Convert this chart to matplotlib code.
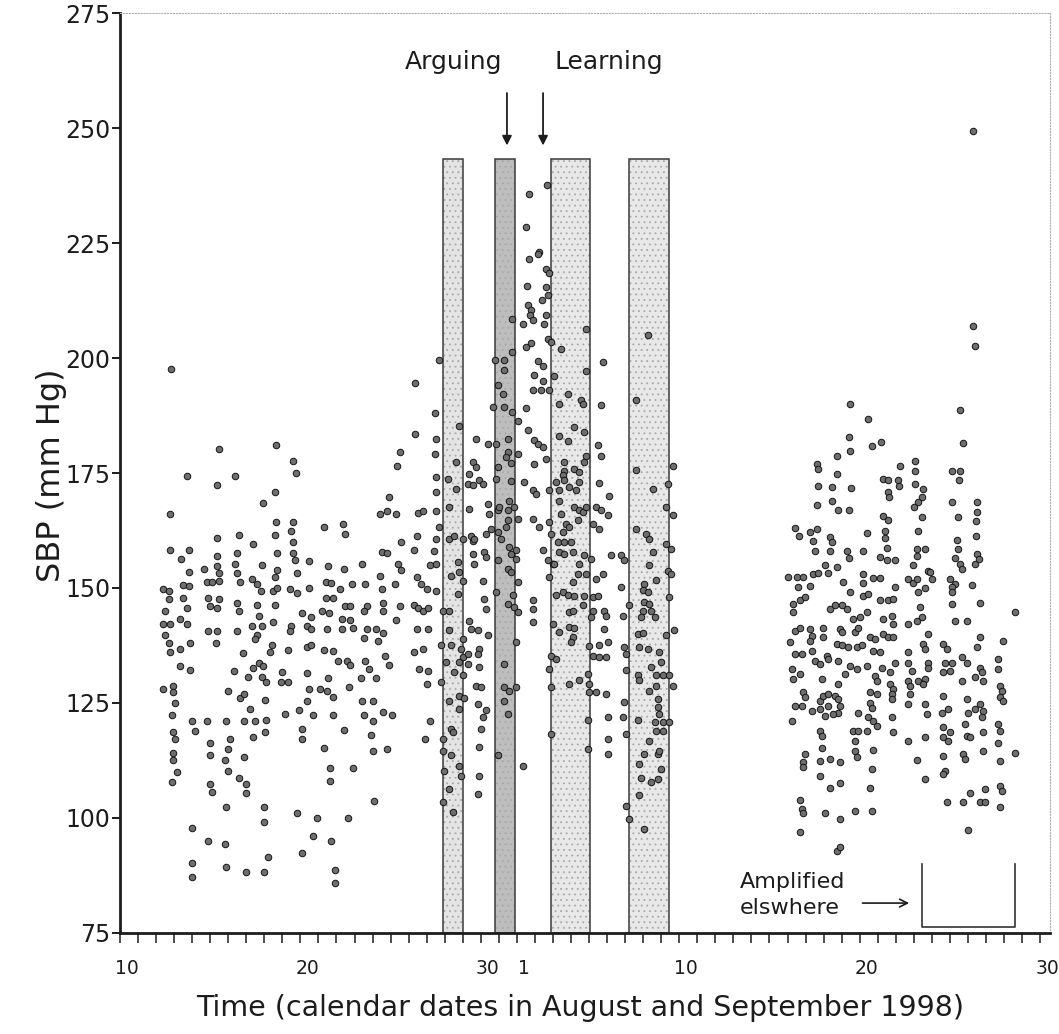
import numpy as np
import matplotlib.pyplot as plt
from matplotlib.transforms import ScaledTranslation

# x = day counted from 1 August 1998 (Sep 1 = 32), y = SBP in mm Hg
# readings 12-27 August
aug_pts = [
    (12.81, 197.6), (26.34, 194.5), (27.47, 188.1), (26.34, 183.5), (27.5, 182.4),
    (25.5, 179.5), (27.45, 179.2), (25.34, 176.6), (15.47, 180.3), (18.65, 181.0),
    (19.6, 177.6), (19.76, 174.9), (13.7, 174.4), (16.36, 174.3), (15.36, 172.4),
    (18.6, 170.8), (17.95, 168.4), (24.9, 169.8), (27.5, 174.2), (27.5, 170.8),
    (27.5, 166.7), (24.8, 166.7), (24.4, 166.1), (25.3, 166.0), (26.5, 166.3),
    (26.8, 166.8), (12.77, 166.0), (18.65, 164.4), (19.6, 164.4), (21.3, 163.2),
    (22.35, 164.0), (22.5, 161.8), (19.5, 162.3), (15.4, 160.9), (16.6, 161.6),
    (18.6, 161.5), (17.4, 159.5), (19.6, 160.0), (25.6, 160.1), (26.45, 161.2),
    (12.8, 158.3), (13.8, 158.3), (13.36, 156.3), (15.4, 157.0), (16.5, 157.7),
    (18.7, 157.7), (19.6, 157.6), (19.7, 156.1), (20.5, 155.8), (24.5, 157.9),
    (24.8, 157.6), (26.3, 158.3), (27.5, 160.6), (27.4, 158.0), (13.8, 153.4),
    (14.66, 154.2), (15.36, 154.7), (15.5, 153.2), (16.4, 155.2), (16.5, 153.2),
    (17.85, 155.0), (18.7, 153.9), (18.6, 152.3), (19.8, 153.2), (21.55, 154.7),
    (22.4, 154.2), (23.4, 155.3), (25.4, 155.3), (25.6, 153.9), (27.2, 155.0),
    (27.5, 155.3), (12.4, 149.8), (12.7, 149.4), (13.5, 150.6), (13.8, 150.5),
    (14.8, 151.4), (15.1, 151.4), (15.5, 151.6), (16.65, 151.2), (17.3, 152.0),
    (17.6, 150.9), (17.8, 149.3), (18.5, 149.3), (18.7, 150.0), (19.4, 149.8),
    (19.8, 149.0), (20.5, 150.0), (21.4, 151.2), (21.7, 151.0), (22.2, 149.8),
    (22.85, 150.9), (23.6, 150.9), (24.4, 152.7), (24.5, 149.8), (25.25, 150.9),
    (26.45, 152.3), (26.7, 150.9), (27.0, 149.8), (27.5, 149.3), (12.7, 147.5),
    (13.5, 147.9), (13.7, 145.6), (14.9, 147.9), (15.5, 147.5), (15.0, 146.0),
    (15.4, 145.6), (16.5, 146.7), (16.6, 144.9), (17.6, 146.3), (17.7, 144.0),
    (18.6, 146.3), (21.4, 147.9), (21.8, 147.9), (22.5, 146.0), (22.75, 146.0),
    (23.7, 146.0), (23.5, 144.9), (24.6, 146.7), (24.6, 144.9), (25.5, 146.0),
    (26.3, 146.3), (26.5, 145.6), (26.8, 144.9), (27.1, 145.6), (12.5, 144.9),
    (12.4, 142.2), (12.8, 142.2), (13.3, 143.3), (13.7, 142.2), (14.9, 140.7),
    (15.4, 140.7), (16.5, 140.7), (17.3, 141.8), (17.85, 141.8), (17.6, 139.7),
    (18.5, 142.6), (19.5, 141.8), (19.4, 140.7), (20.1, 144.5), (20.6, 143.7),
    (20.35, 141.8), (20.6, 141.0), (21.2, 144.9), (21.6, 144.5), (22.3, 143.3),
    (22.75, 143.0), (21.5, 141.0), (22.3, 141.0), (22.9, 141.2), (23.7, 141.0),
    (24.2, 141.0), (24.6, 140.3), (25.3, 143.0), (26.45, 141.0), (27.1, 141.0),
    (12.5, 139.7), (12.7, 138.0), (12.8, 136.1), (13.3, 136.8), (13.9, 138.0),
    (15.3, 138.0), (16.8, 135.8), (17.5, 138.9), (18.3, 136.1), (18.4, 137.6),
    (19.3, 136.5), (20.35, 137.2), (20.6, 137.6), (21.3, 136.5), (21.8, 136.3),
    (23.5, 139.1), (24.3, 138.4), (24.7, 135.3), (26.3, 136.1), (26.8, 136.8),
    (13.3, 133.0), (13.9, 132.1), (16.3, 131.9), (17.1, 130.7), (17.4, 132.7),
    (17.7, 133.8), (17.95, 133.0), (17.85, 130.7), (18.1, 129.6), (19.0, 131.7),
    (18.9, 129.6), (19.3, 129.6), (20.35, 131.5), (20.45, 128.0), (21.55, 130.4),
    (22.1, 134.2), (22.6, 134.2), (22.75, 133.3), (23.6, 134.2), (23.8, 132.3),
    (23.35, 130.4), (24.2, 130.4), (24.9, 133.3), (26.6, 132.3), (27.1, 131.9),
    (27.0, 129.2), (12.4, 128.0), (12.96, 128.8), (12.96, 127.3), (13.05, 124.9),
    (16.0, 127.6), (16.65, 126.1), (16.9, 126.9), (18.04, 125.7), (21.1, 128.0),
    (21.5, 127.6), (21.8, 126.4), (22.7, 128.4), (20.35, 125.4), (20.7, 122.3),
    (19.9, 123.5), (19.15, 122.6), (23.4, 125.4), (24.0, 125.4), (17.2, 123.8),
    (16.9, 121.1), (17.5, 121.1), (18.1, 121.4), (18.04, 118.7), (12.87, 122.3),
    (13.97, 121.1), (14.85, 121.1), (15.9, 121.1), (12.96, 118.7), (13.05, 117.2),
    (14.16, 119.0), (17.4, 117.6), (16.1, 117.2), (16.0, 114.9), (20.1, 119.4),
    (20.1, 117.2), (21.8, 122.3), (22.4, 119.2), (23.5, 122.3), (24.0, 121.1),
    (24.6, 123.0), (25.1, 122.3), (23.9, 118.0), (24.0, 114.5), (24.8, 114.9),
    (27.2, 121.1), (26.9, 117.2), (15.0, 116.2), (15.0, 113.8), (16.9, 113.3),
    (16.6, 108.7), (21.3, 115.2), (12.96, 114.1), (12.96, 112.6), (13.14, 109.9),
    (12.87, 107.9), (15.8, 112.6), (16.0, 110.2), (21.65, 110.8), (22.9, 110.8),
    (21.65, 108.1), (15.0, 107.4), (15.1, 105.7), (17.0, 107.4), (17.0, 105.4),
    (24.1, 103.8), (15.9, 102.3), (18.0, 102.3), (18.0, 99.2), (19.8, 101.1),
    (20.9, 99.9), (22.65, 99.9), (14.0, 97.8), (14.9, 95.1), (15.8, 94.3),
    (20.7, 96.1), (21.7, 94.9), (20.1, 92.4), (18.2, 91.6), (14.0, 90.3),
    (14.0, 87.2), (15.9, 89.4), (17.0, 88.3), (18.0, 88.3), (21.9, 88.7),
    (21.9, 85.8),
]

# readings 27 August - 10 September (around the shaded periods)
mid_pts = [
    (33.65, 237.6), (32.66, 235.6), (32.51, 228.4), (33.25, 223.1), (33.16, 222.7),
    (32.66, 221.5), (33.62, 219.4), (33.8, 218.4), (32.55, 215.6), (33.62, 215.5),
    (33.7, 213.6), (33.4, 212.6), (32.6, 211.5), (32.79, 210.4), (32.7, 209.3),
    (32.88, 208.2), (33.62, 209.3), (33.53, 207.3), (32.32, 207.5), (31.73, 208.5),
    (35.84, 206.2), (33.71, 204.2), (33.9, 203.5), (32.79, 203.3), (32.51, 202.4),
    (34.45, 202.0), (31.73, 201.3), (27.7, 199.6), (36.76, 199.1), (30.81, 199.5),
    (31.31, 199.5), (33.16, 199.4), (33.43, 198.2), (35.84, 197.2), (31.31, 197.3),
    (39.25, 205.0), (32.97, 196.2), (33.43, 195.1), (34.08, 196.0), (30.94, 194.1),
    (32.88, 193.1), (33.34, 193.1), (33.8, 193.1), (31.22, 192.2), (34.82, 192.1),
    (35.56, 190.8), (35.65, 190.1), (38.6, 190.8), (34.36, 189.9), (36.67, 189.7),
    (30.66, 189.3), (31.31, 189.3), (32.51, 189.2), (31.73, 188.3), (32.05, 186.4),
    (28.78, 185.3), (35.19, 185.0), (35.74, 183.9), (32.6, 184.3), (31.49, 182.5),
    (34.36, 183.0), (34.82, 181.9), (29.74, 182.5), (30.38, 181.4), (30.85, 181.4),
    (32.97, 182.1), (33.16, 181.4), (33.43, 180.6), (36.48, 181.0), (32.05, 179.2),
    (31.49, 179.5), (31.4, 178.5), (33.62, 178.1), (32.97, 177.0), (28.63, 177.4),
    (29.55, 177.4), (29.74, 176.3), (31.68, 177.2), (30.94, 176.3), (34.63, 177.4),
    (34.63, 175.5), (35.19, 175.9), (35.47, 175.2), (35.84, 178.8), (35.74, 177.4),
    (36.67, 178.8), (38.6, 175.6), (40.64, 176.6), (28.17, 173.7), (29.37, 174.8),
    (29.28, 172.7), (29.92, 173.4), (29.55, 172.3), (30.1, 172.7), (30.85, 173.7),
    (31.68, 173.2), (32.42, 173.0), (32.88, 171.2), (33.06, 170.5), (33.8, 171.2),
    (34.17, 173.0), (34.54, 174.5), (34.63, 173.4), (34.91, 171.9), (35.28, 171.2),
    (35.47, 173.0), (36.57, 172.8), (37.13, 169.9), (40.36, 172.7), (39.53, 171.6),
    (28.26, 167.6), (28.63, 171.6), (29.37, 167.2), (30.38, 168.3), (30.48, 166.1),
    (30.94, 166.9), (31.03, 167.6), (31.59, 169.0), (31.49, 166.9), (31.86, 167.7),
    (31.49, 164.7), (32.05, 165.1), (32.88, 165.1), (34.36, 171.2), (34.36, 169.0),
    (34.45, 166.1), (33.8, 164.3), (35.19, 167.6), (35.47, 166.9), (35.65, 166.5),
    (35.84, 167.6), (36.39, 167.6), (36.67, 166.9), (37.04, 165.8), (36.2, 164.0),
    (40.27, 167.6), (40.64, 165.8), (34.73, 164.0), (34.91, 163.2), (38.6, 162.9),
    (30.57, 162.9), (31.4, 163.2),
    (27.7, 163.2), (28.26, 160.7), (28.54, 161.4), (29.0, 160.7), (29.46, 161.4),
    (29.55, 160.3), (29.64, 160.7), (30.29, 161.8), (28.72, 155.6), (28.81, 153.5),
    (28.35, 152.7), (29.55, 157.4), (30.2, 157.8), (30.29, 156.7), (29.64, 155.3),
    (29.0, 151.6), (30.11, 151.6), (28.72, 148.7), (27.89, 145.1), (28.26, 145.1),
    (30.2, 147.7), (30.29, 145.5), (29.37, 142.9), (29.46, 141.1), (29.83, 140.8),
    (30.38, 139.7), (28.26, 140.8), (29.0, 138.9), (27.8, 137.5), (28.35, 137.7),
    (28.9, 136.8), (29.0, 135.0), (28.81, 133.9), (29.28, 135.7), (29.92, 136.8),
    (29.83, 135.7), (28.07, 133.9), (28.54, 131.7), (29.28, 133.5), (29.92, 132.8),
    (29.0, 131.0), (27.8, 129.5), (29.74, 128.8), (30.01, 128.4), (28.81, 126.6),
    (29.05, 126.0), (28.26, 125.5), (29.83, 124.8), (30.29, 123.4), (28.81, 123.7),
    (30.11, 121.9), (28.35, 119.4), (28.44, 118.6), (30.01, 119.4), (27.89, 117.2),
    (29.92, 115.4), (27.89, 114.6), (28.35, 113.6), (28.81, 111.4), (27.98, 110.3),
    (28.9, 109.2), (29.92, 109.2), (28.26, 106.3), (29.83, 105.2), (27.89, 103.4),
    (28.44, 101.2),
    (30.94, 162.2), (31.12, 160.7), (31.59, 158.9), (31.96, 158.2), (31.68, 157.4),
    (30.94, 156.0), (31.96, 156.4), (31.49, 154.2), (31.68, 153.5), (32.05, 151.3),
    (30.85, 149.1), (31.77, 148.4), (31.49, 146.6), (31.86, 145.8), (32.05, 144.8),
    (32.88, 147.3), (32.88, 145.5), (32.88, 142.6), (31.96, 138.2), (31.31, 133.5),
    (31.31, 128.4), (31.59, 127.7), (31.96, 128.4), (31.31, 125.5), (31.49, 122.6),
    (30.94, 113.6), (32.32, 111.2),
    (33.25, 163.2), (33.43, 158.2), (33.71, 156.0), (33.99, 155.3), (33.8, 152.4),
    (33.9, 118.3), (33.9, 128.4), (33.8, 132.4), (33.99, 142.2),
    (33.9, 161.8), (34.54, 162.2), (34.26, 160.0), (34.63, 160.0), (35.0, 160.0),
    (35.37, 164.7), (36.57, 162.9), (34.36, 157.8), (34.63, 157.4), (35.09, 157.8),
    (35.74, 157.1), (36.11, 156.4), (34.08, 155.3), (35.47, 155.3), (35.37, 153.1),
    (35.84, 153.1), (35.09, 151.3), (36.39, 152.0), (36.76, 153.1), (37.22, 157.1),
    (37.77, 157.1), (37.96, 156.0), (37.77, 150.2), (34.17, 148.4), (34.54, 149.1),
    (34.82, 148.4), (35.19, 148.2), (35.74, 148.2), (36.2, 148.0), (36.48, 148.2),
    (34.91, 144.7), (35.09, 145.1), (35.65, 146.2), (36.2, 145.1), (36.11, 143.7),
    (36.85, 145.1), (36.94, 144.0), (37.87, 144.0), (38.24, 146.2), (34.36, 140.4),
    (34.91, 141.5), (35.19, 141.3), (35.09, 139.3), (35.0, 138.2), (36.85, 141.1),
    (35.99, 137.3), (36.57, 137.5), (37.04, 138.2), (36.2, 135.3), (36.57, 135.1),
    (36.94, 135.1), (33.9, 135.3), (34.17, 134.6), (37.96, 137.1), (38.05, 135.7),
    (35.93, 131.3), (34.91, 129.2), (35.47, 130.0), (35.99, 129.2), (35.99, 127.3),
    (36.39, 127.3), (36.94, 127.0), (38.05, 132.1), (37.96, 125.2), (37.04, 121.9),
    (37.87, 121.9), (38.05, 118.3), (35.93, 121.2), (37.04, 117.2), (37.04, 113.9),
    (35.93, 115.0), (38.05, 102.7),
    (39.16, 161.8), (39.35, 160.7), (40.27, 159.6), (40.55, 158.5), (39.53, 157.8),
    (39.35, 154.9), (40.36, 153.8), (40.55, 153.1), (39.72, 151.8), (39.07, 150.9),
    (38.98, 149.5), (39.25, 149.1), (40.45, 148.0), (39.07, 146.9), (39.3, 146.5),
    (38.98, 145.1), (39.44, 145.1), (39.63, 143.7), (38.9, 143.8), (38.7, 140.0),
    (39.0, 140.3), (40.27, 139.7), (40.73, 140.8), (38.79, 137.1), (39.25, 136.8),
    (39.9, 136.0), (40.0, 133.9), (39.44, 132.8), (38.7, 131.0), (38.79, 129.9),
    (39.72, 131.0), (40.08, 131.0), (40.45, 131.0), (40.64, 128.8), (39.72, 128.8),
    (39.35, 127.7), (39.81, 125.9), (39.81, 124.1), (39.9, 122.6), (38.7, 121.2),
    (39.63, 120.8), (40.08, 120.8), (40.45, 120.8), (39.72, 119.0), (40.08, 118.9),
    (39.35, 116.8), (39.07, 113.9), (39.81, 113.9), (39.9, 114.6), (38.79, 111.7),
    (40.0, 110.7), (38.88, 108.8), (39.44, 107.8), (39.81, 108.5), (38.79, 104.9),
    (38.24, 99.8), (39.07, 97.6),
]

# readings 16-30 September
sep_pts = [
    (57.3, 249.3), (57.26, 206.9), (57.39, 202.7), (50.46, 189.9), (51.48, 186.8),
    (56.56, 188.7), (50.43, 182.8), (50.46, 179.7), (49.73, 178.8), (51.67, 180.8),
    (52.16, 181.7), (56.71, 181.5), (48.62, 177.0), (48.71, 175.9), (49.73, 174.8),
    (53.24, 176.6), (54.07, 177.7), (54.07, 175.5), (56.1, 175.5), (56.56, 175.5),
    (56.52, 173.4), (52.31, 173.7), (52.59, 173.5), (53.14, 173.4), (53.2, 172.2),
    (48.71, 172.1), (49.45, 171.9), (50.52, 171.8), (54.07, 172.6), (54.49, 171.5),
    (54.44, 169.7), (54.25, 168.6), (54.01, 167.7), (52.59, 170.8), (52.65, 169.7),
    (49.45, 169.0), (49.82, 167.0), (50.43, 167.0), (48.62, 168.1), (56.1, 168.6),
    (57.52, 168.6), (57.49, 166.5), (57.45, 164.5), (56.47, 165.5), (54.44, 165.5),
    (52.28, 165.7), (52.59, 164.8), (47.42, 163.1), (47.66, 161.2), (48.25, 162.1),
    (48.62, 162.8), (48.43, 160.2), (49.36, 161.0), (49.45, 159.9), (51.39, 161.9),
    (52.4, 162.5), (52.4, 160.9), (52.5, 158.7), (54.25, 162.5), (56.38, 160.5),
    (57.45, 161.4), (56.47, 158.5), (48.52, 158.0), (49.36, 158.0), (50.32, 158.0),
    (50.4, 156.6), (51.2, 158.0), (54.16, 158.5), (54.62, 158.5), (54.2, 157.0),
    (57.49, 157.4), (57.39, 155.2), (57.6, 156.2), (52.13, 156.7), (52.5, 156.0),
    (52.96, 156.0), (56.29, 156.5), (56.56, 155.2), (56.65, 154.1), (49.08, 154.9),
    (49.73, 154.5), (53.98, 154.9), (54.81, 153.8), (47.05, 152.3), (47.51, 152.3),
    (47.88, 152.3), (48.43, 153.0), (48.71, 153.2), (49.26, 153.2), (47.6, 150.3),
    (48.25, 150.5), (50.1, 151.2), (51.2, 153.0), (51.2, 151.0), (51.76, 152.2),
    (52.13, 152.2), (52.96, 150.2), (53.7, 152.0), (53.98, 151.0), (54.16, 152.0),
    (54.9, 153.4), (55.0, 152.0), (54.62, 150.0), (56.0, 152.0), (56.29, 150.9),
    (56.1, 150.2), (57.21, 150.7),
    (47.32, 146.5), (47.69, 147.3), (47.97, 148.1), (47.32, 144.7), (49.36, 145.4),
    (49.63, 146.2), (50.0, 146.2), (50.28, 145.4), (50.46, 149.1), (51.2, 148.3),
    (51.48, 148.7), (52.13, 147.3), (52.59, 147.3), (52.87, 147.6), (54.25, 149.1),
    (54.34, 145.9), (56.1, 149.1), (56.1, 146.5), (57.67, 146.7), (59.61, 144.7),
    (50.65, 143.3), (51.02, 143.6), (51.39, 144.7), (52.31, 143.3), (52.77, 144.0),
    (52.87, 142.2), (53.7, 142.2), (54.16, 142.9), (54.44, 143.6), (56.29, 142.9),
    (56.93, 142.9), (47.42, 140.7), (47.69, 141.4), (48.25, 141.1), (48.34, 139.6),
    (48.25, 138.5), (48.99, 141.4), (48.99, 139.3), (49.91, 141.1), (50.0, 140.4),
    (50.74, 140.4), (50.93, 141.4), (51.57, 139.3), (51.85, 138.9), (52.31, 140.0),
    (52.59, 139.3), (52.87, 139.3), (54.81, 140.0), (57.67, 139.3), (58.96, 138.5),
    (47.14, 138.2), (49.73, 137.8), (50.0, 137.5), (50.37, 137.1), (50.83, 137.1),
    (51.11, 137.5), (51.76, 136.4), (52.13, 136.0), (54.53, 137.8), (54.62, 136.7),
    (55.64, 137.8), (55.82, 136.7), (57.49, 137.1), (47.42, 135.6), (47.78, 135.6),
    (48.34, 136.4), (49.17, 135.3), (49.26, 134.6), (49.82, 134.2), (48.52, 134.2),
    (48.8, 133.5), (50.46, 133.1), (50.83, 132.4), (51.39, 133.1), (52.22, 132.7),
    (52.68, 131.7), (52.96, 133.8), (53.7, 136.0), (53.7, 133.8), (53.88, 132.0),
    (54.81, 133.8), (54.81, 132.6), (55.73, 133.8), (56.1, 133.8), (55.64, 131.7),
    (56.01, 132.0), (56.65, 134.9), (56.93, 133.8), (58.69, 134.6), (58.69, 132.4),
    (57.67, 132.7), (57.76, 131.7), (47.23, 132.4), (47.69, 131.3), (47.32, 130.2),
    (48.9, 130.2), (49.82, 129.1), (50.19, 131.3), (51.85, 130.9), (51.94, 129.8),
    (52.68, 129.1), (52.87, 128.0), (53.7, 129.8), (53.79, 128.8), (54.25, 129.8),
    (54.62, 130.2), (54.53, 129.1), (56.65, 129.8), (57.39, 130.6), (57.85, 129.8),
    (58.78, 128.8), (58.87, 127.7), (47.88, 127.3), (47.97, 126.2), (51.57, 127.3),
    (51.94, 126.9), (52.77, 126.9), (52.77, 125.9), (53.79, 126.9), (55.64, 126.6),
    (56.93, 125.9), (58.78, 126.2), (58.96, 125.5), (48.8, 125.5), (48.99, 126.6),
    (49.26, 126.9), (49.63, 126.6), (49.82, 125.9), (49.91, 124.4), (49.82, 122.9),
    (49.54, 122.6), (49.08, 122.2), (48.8, 123.7), (49.26, 124.4), (47.42, 124.4),
    (47.78, 124.4), (48.34, 123.3), (51.57, 125.1), (51.67, 124.0), (53.7, 124.8),
    (54.62, 124.8), (54.71, 122.6), (55.55, 122.9), (55.92, 123.7), (57.02, 122.9),
    (57.39, 123.7), (57.67, 124.8), (57.85, 123.3), (57.76, 121.9), (50.93, 122.9),
    (51.48, 121.9), (51.76, 121.1), (51.94, 120.1), (52.77, 121.9), (47.23, 121.1),
    (48.8, 118.9), (48.9, 117.9), (50.65, 118.9), (50.93, 118.9), (51.39, 118.9),
    (52.87, 118.6), (53.7, 116.8), (54.62, 117.5), (55.64, 119.7), (56.01, 118.6),
    (55.64, 117.5), (55.92, 116.8), (56.84, 120.4), (56.93, 117.9), (57.11, 117.5),
    (57.85, 118.6), (58.69, 120.4), (58.78, 119.0), (58.69, 116.4), (59.61, 114.2),
    (48.9, 115.3), (48.8, 112.4), (50.74, 116.8), (50.74, 114.6), (50.83, 113.2),
    (51.76, 114.8), (47.97, 114.0), (47.88, 112.1), (47.88, 111.0), (49.36, 112.8),
    (49.91, 112.1), (54.16, 112.6), (55.64, 113.5), (56.75, 113.9), (56.84, 112.8),
    (57.85, 114.6), (58.78, 112.4), (55.73, 110.3), (55.64, 109.5), (51.67, 110.6),
    (48.8, 109.2), (49.36, 106.6), (49.91, 107.7), (51.57, 106.6), (54.62, 108.4),
    (58.78, 107.0), (58.87, 105.9), (57.11, 105.5), (57.95, 106.3), (55.82, 103.4),
    (56.75, 103.4), (57.67, 103.4), (57.95, 103.4), (58.78, 102.3), (47.69, 103.9),
    (47.78, 101.9), (47.88, 101.0), (49.08, 101.0), (49.91, 99.7), (50.74, 101.5),
    (51.67, 101.5), (47.69, 97.0), (57.02, 97.3), (49.73, 92.8), (49.91, 93.6),
]

# shaded periods (days), the second one is the darker "arguing" day
bar_start = [27.92, 30.79, 33.89, 38.23]
bar_end = [28.99, 31.90, 36.07, 40.42]
bar_shade = ["#e4e4e4", "#bdbdbd", "#e8e8e8", "#e8e8e8"]
bar_top = 243.2

tick_days = [10, 20, 30, 32, 41, 51, 61]
tick_text = ["10", "20", "30", "1", "10", "20", "30"]
y_ticks = [75, 100, 125, 150, 175, 200, 225, 250, 275]

plt.rcParams["font.family"] = ["DejaVu Sans"]
plt.rcParams["hatch.linewidth"] = 0.6
ink = "#1c1c1c"

fig = plt.figure(figsize=(10.59, 10.34), dpi=100)
ax = fig.add_axes([0.1133, 0.0977, 0.8782, 0.8897])

# shaded periods: stippled fill, then a dark outline on top
widths = np.subtract(bar_end, bar_start)
ax.bar(bar_start, bar_top - 75, width=widths, bottom=75, align="edge",
       color=bar_shade, edgecolor="#a8a8a8", hatch="...", linewidth=0, zorder=1)
ax.bar(bar_start, bar_top - 75, width=widths, bottom=75, align="edge",
       fill=False, edgecolor="#3a3a3a", linewidth=1.1, zorder=2)

pts = np.array(aug_pts + mid_pts + sep_pts)
ax.scatter(pts[:, 0], pts[:, 1], s=22, facecolor="#6e6e6e", edgecolor="#141414",
           linewidths=0.7, zorder=3)

ax.set_xlim(10, 61.55)
ax.set_ylim(75, 275)

for side in ("left", "bottom"):
    ax.spines[side].set_linewidth(2.0)
    ax.spines[side].set_color(ink)
for side in ("top", "right"):
    ax.spines[side].set_linewidth(0.8)
    ax.spines[side].set_color("#b0b0b0")
    ax.spines[side].set_linestyle(":")

ax.set_yticks(y_ticks)
ax.set_yticklabels([str(v) for v in y_ticks])
ax.tick_params(axis="y", length=6, width=1.4, labelsize=17, pad=1,
               colors=ink)
ax.set_xticks(range(10, 62))
ax.set_xticklabels([tick_text[tick_days.index(d)] if d in tick_days else ""
                    for d in range(10, 62)])
ax.tick_params(axis="x", length=7, width=1.1, labelsize=13.5, pad=12,
               colors=ink)
# the printed day numbers sit a little right of their ticks
shift = ScaledTranslation(5 / 72, 0, fig.dpi_scale_trans)
for lab in ax.get_xticklabels():
    lab.set_transform(lab.get_transform() + shift)

fig.text(0.5477, 0.0251, "Time (calendar dates in August and September 1998)",
         ha="center", va="center", fontsize=20.5, color=ink)
fig.text(0.049, 0.5406, "SBP (mm Hg)", ha="center", va="center",
         rotation=90, fontsize=23, color=ink)

# event labels with arrows
ax.text(28.51, 264.3, "Arguing", ha="center", va="center", fontsize=18, color=ink)
ax.text(37.08, 264.3, "Learning", ha="center", va="center", fontsize=18, color=ink)
for xd in (31.45, 33.45):
    ax.annotate("", xy=(xd, 245.6), xytext=(xd, 258.2),
                arrowprops=dict(arrowstyle="-|>", color=ink, lw=1.3,
                                mutation_scale=14))

ax.text(44.37, 83.3, "Amplified\nelswhere", ha="left", va="center",
        fontsize=16, linespacing=1.35, color=ink)
ax.annotate("", xy=(53.9, 81.5), xytext=(51.0, 81.5),
            arrowprops=dict(arrowstyle="->", color=ink, lw=1.2, mutation_scale=14))
ax.plot([54.46, 54.46, 59.61, 59.61], [90, 76.3, 76.3, 90], color="#333333",
        lw=1.2, zorder=2)

fig.savefig("out.png", dpi=100)
